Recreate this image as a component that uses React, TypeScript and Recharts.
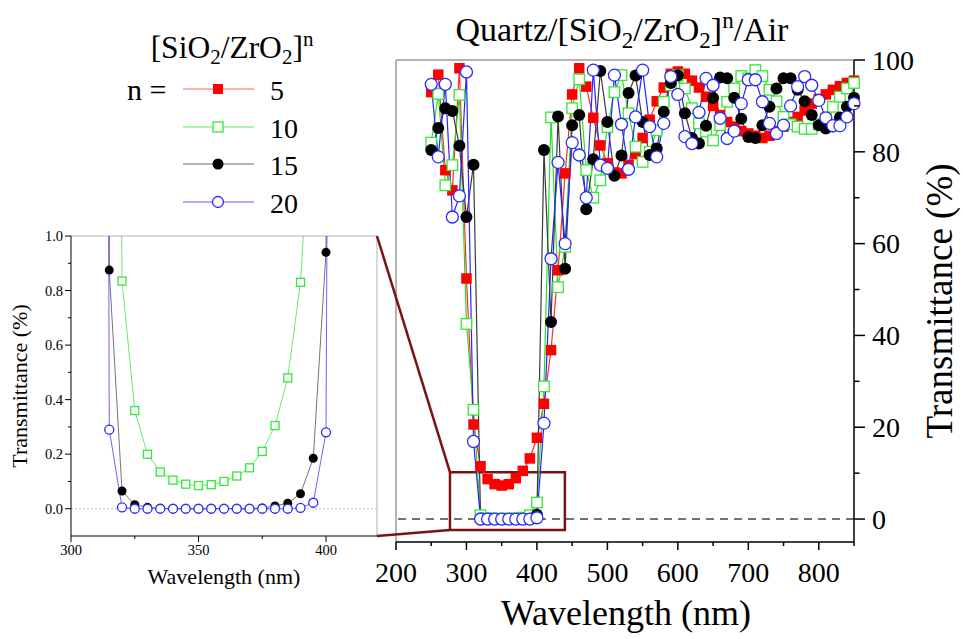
import React from "react"
import { LineChart, Line, XAxis, YAxis, ReferenceLine, ReferenceArea } from "recharts"

const FONT = "'Liberation Serif', Tinos, 'Times New Roman', 'DejaVu Serif', serif"

// main spectrum, every 10 nm
const wavelength = [250, 260, 270, 280, 290, 300, 310, 320, 330, 340, 350, 360, 370, 380, 390, 400, 410, 420, 430, 440, 450, 460, 470, 480, 490, 500, 510, 520, 530, 540, 550, 560, 570, 580, 590, 600, 610, 620, 630, 640, 650, 660, 670, 680, 690, 700, 710, 720, 730, 740, 750, 760, 770, 780, 790, 800, 810, 820, 830, 840, 850]
const t5 = [93, 96.8, 76, 71.6, 98.2, 52.4, 20.6, 11.5, 8.7, 7.6, 7.3, 7.6, 8.9, 10.5, 13.2, 17.7, 25.1, 36.8, 54.2, 75.3, 92.5, 98.2, 94.2, 87.4, 81.4, 77.5, 75.5, 75.3, 77.1, 79.5, 83, 87, 91, 94, 97, 97.5, 97, 95.5, 94, 92, 90, 88, 86.5, 85.5, 84.5, 84, 83.5, 83, 83.5, 84.5, 85.5, 86.5, 87.6, 89, 90.5, 91.5, 92.5, 93.5, 94.3, 95, 95.5]
const t10 = [82, 92.6, 72.7, 77.1, 92.4, 42.5, 23.8, 0.83, 0.2, 0.105, 0.085, 0.1, 0.15, 0.305, 0.83, 3.6, 28.9, 87.5, 50.5, 59.3, 89.5, 95.8, 76, 70, 73.8, 85.4, 93, 96.7, 88.4, 81.1, 77.8, 80, 84.7, 90.9, 94.5, 96.7, 93.8, 89.5, 86.2, 84.4, 82.5, 85.8, 90.9, 93.8, 96.5, 96, 97.8, 96.5, 93.5, 91, 87.6, 86, 85.5, 85, 85, 86, 87.3, 89.8, 92, 93.8, 95]
const t15 = [80.4, 85.2, 89.5, 88.9, 81.3, 65.8, 77.2, 0.07, 0.01, 0, 0, 0, 0, 0.01, 0.06, 0.94, 80.4, 42.9, 87.7, 54.5, 85.8, 88, 67.5, 78.4, 97.6, 86.5, 74.8, 79.2, 92.8, 96.6, 86.5, 79.3, 80.7, 88.7, 95, 96.7, 88.4, 83, 81.8, 85.7, 91.7, 96.2, 96, 91.8, 87.2, 83.2, 83, 85.8, 89.8, 93.8, 96, 96, 93.5, 91, 88, 85.8, 85.1, 85.5, 87.5, 89.8, 91.8]
const t20 = [94.7, 78.9, 94.7, 65.8, 70.4, 97.4, 16.9, 0.005, 0, 0, 0, 0, 0, 0, 0.003, 0.28, 20.9, 56.7, 77.7, 60, 82, 79.3, 70, 97.8, 77.1, 76.4, 96.7, 86, 76.2, 87.6, 97.8, 85.5, 78.9, 86.2, 96.4, 92.5, 83.3, 81.8, 88.6, 96, 94.5, 87.3, 82.9, 84.5, 90.5, 95.7, 95.7, 90.9, 86.2, 84, 85.8, 90, 94.2, 96.4, 94.5, 91.2, 87.4, 85.7, 85.7, 87.6, 90.5]

// inset: stop band, every 5 nm
const insetWavelength = [310, 315, 320, 325, 330, 335, 340, 345, 350, 355, 360, 365, 370, 375, 380, 385, 390, 395, 400, 405]
const inset10 = [23.8, 8, 0.835, 0.36, 0.2, 0.135, 0.105, 0.09, 0.085, 0.088, 0.1, 0.12, 0.15, 0.21, 0.305, 0.48, 0.83, 1.6, 3.6, 15]
const inset15 = [77.2, 0.875, 0.065, 0.015, 0.005, 0.002, 0, 0, 0, 0, 0, 0, 0, 0.003, 0.01, 0.02, 0.055, 0.185, 0.94, 40]
const inset20 = [16.9, 0.29, 0.005, 0, 0, 0, 0, 0, 0, 0, 0, 0, 0, 0, 0, 0, 0.003, 0.022, 0.28, 10]

const mainXTicks = [200, 250, 300, 350, 400, 450, 500, 550, 600, 650, 700, 750, 800, 850]
const mainYTicks = [0, 10, 20, 30, 40, 50, 60, 70, 80, 90, 100]
const insetXTicks = [300, 325, 350, 375, 400]
const insetYTicks = [0, 0.1, 0.2, 0.3, 0.4, 0.5, 0.6, 0.7, 0.8, 0.9, 1]

const SERIES = [
  { key: "n5", label: "5", color: "#ff2a2a", kind: "square", fill: "#ff0000", stroke: "none" },
  { key: "n10", label: "10", color: "#2adf2a", kind: "square", fill: "#ffffff", stroke: "#33e833" },
  { key: "n15", label: "15", color: "#3a3a3a", kind: "circle", fill: "#000000", stroke: "none" },
  { key: "n20", label: "20", color: "#2626ff", kind: "circle", fill: "#ffffff", stroke: "#2a2aff" },
]

const mainData = wavelength.map((wl, i) => ({ wl, n5: t5[i], n10: t10[i], n15: t15[i], n20: t20[i] }))
const insetData = insetWavelength.map((wl, i) => ({ wl, n10: inset10[i], n15: inset15[i], n20: inset20[i] }))

// layout
const MAIN = { left: 300, top: 0, width: 663, height: 639, mLeft: 96, mTop: 60, axisW: 109, axisH: 97 }
const MAIN_X = [200, 850]
const MAIN_Y = [-5, 100]
const INSET = { left: 0, top: 200, width: 385, height: 420, mTop: 36, mRight: 8, axisW: 71, axisH: 84 }
const INSET_X = [300, 420]
const INSET_Y = [-0.1, 1]
const ZOOM_BOX = { x1: 276.6, x2: 439.7, y1: -2.4, y2: 10.2 }
const BOX_COLOR = "#7d1212"

const mainPlot = {
  left: MAIN.left + MAIN.mLeft,
  right: MAIN.left + MAIN.width - MAIN.axisW,
  top: MAIN.top + MAIN.mTop,
  bottom: MAIN.top + MAIN.height - MAIN.axisH,
}
const insetPlot = {
  left: INSET.left + INSET.axisW,
  right: INSET.left + INSET.width - INSET.mRight,
  top: INSET.top + INSET.mTop,
  bottom: INSET.top + INSET.height - INSET.axisH,
}
const mainPx = (v: number) => mainPlot.left + ((v - MAIN_X[0]) / (MAIN_X[1] - MAIN_X[0])) * (mainPlot.right - mainPlot.left)
const mainPy = (v: number) => mainPlot.top + ((MAIN_Y[1] - v) / (MAIN_Y[1] - MAIN_Y[0])) * (mainPlot.bottom - mainPlot.top)

const txt = (size: number) => ({ fontFamily: FONT, fontSize: size })

function Marker({ cx, cy, kind, size, fill, stroke }: any) {
  if (kind === "square") {
    return <rect x={cx - size / 2} y={cy - size / 2} width={size} height={size} fill={fill} stroke={stroke} strokeWidth={1.3} />
  }
  return <circle cx={cx} cy={cy} r={size / 2} fill={fill} stroke={stroke} strokeWidth={1.3} />
}

const dotFor = (s: any, size: number) => (p: any) => {
  if (p.cx == null || p.cy == null || Number.isNaN(p.cy)) return <g key={`d${p.index}`} />
  return <Marker key={`d${p.index}`} cx={p.cx} cy={p.cy} kind={s.kind} size={size} fill={s.fill} stroke={s.stroke} />
}

function MainXTick({ x, y, payload }: any) {
  const major = payload.value % 100 === 0
  return (
    <g>
      <line x1={x} x2={x} y1={y} y2={y + (major ? 8 : 4)} stroke="#000" strokeWidth={1.5} />
      {major && (
        <text x={x} y={y + 40} textAnchor="middle" style={txt(28)} fill="#000">
          {payload.value}
        </text>
      )}
    </g>
  )
}

function MainYTick({ x, y, payload }: any) {
  const major = payload.value % 20 === 0
  return (
    <g>
      <line x1={x} x2={x + (major ? 11 : 5.5)} y1={y} y2={y} stroke="#000" strokeWidth={1.5} />
      {major && (
        <text x={x + 18} y={y} dy="0.35em" style={txt(28)} fill="#000">
          {payload.value}
        </text>
      )}
    </g>
  )
}

function InsetXTick({ x, y, payload }: any) {
  const major = payload.value % 50 === 0
  return (
    <g>
      <line x1={x} x2={x} y1={y} y2={y + (major ? 6 : 3)} stroke="#000" strokeWidth={1} />
      {major && (
        <text x={x} y={y + 19} textAnchor="middle" style={txt(14.5)} fill="#000">
          {payload.value}
        </text>
      )}
    </g>
  )
}

function InsetYTick({ x, y, payload }: any) {
  const major = Math.round(payload.value * 10) % 2 === 0
  return (
    <g>
      <line x1={x} x2={x - (major ? 6 : 3)} y1={y} y2={y} stroke="#000" strokeWidth={1} />
      {major && (
        <text x={x - 8} y={y} dy="0.35em" textAnchor="end" style={txt(14.5)} fill="#000">
          {payload.value.toFixed(1)}
        </text>
      )}
    </g>
  )
}

function MainChart() {
  return (
    <LineChart
      width={MAIN.width}
      height={MAIN.height}
      data={mainData}
      margin={{ top: MAIN.mTop, right: 0, bottom: 0, left: MAIN.mLeft }}
    >
      <XAxis
        type="number"
        dataKey="wl"
        domain={MAIN_X}
        ticks={mainXTicks}
        interval={0}
        height={MAIN.axisH}
        tickSize={0}
        tickMargin={0}
        tickLine={false}
        axisLine={{ stroke: "#000", strokeWidth: 1.5 }}
        tick={<MainXTick />}
      />
      <YAxis
        orientation="right"
        domain={MAIN_Y}
        ticks={mainYTicks}
        interval={0}
        width={MAIN.axisW}
        tickSize={0}
        tickMargin={0}
        tickLine={false}
        axisLine={{ stroke: "#000", strokeWidth: 1.5 }}
        tick={<MainYTick />}
      />
      <ReferenceLine x={MAIN_X[0]} stroke="#b3b3b3" strokeWidth={2} />
      <ReferenceLine y={MAIN_Y[1]} stroke="#b3b3b3" strokeWidth={2} />
      <ReferenceLine y={0} stroke="#444" strokeWidth={1.5} strokeDasharray="8 6" />
      <ReferenceArea
        x1={ZOOM_BOX.x1}
        x2={ZOOM_BOX.x2}
        y1={ZOOM_BOX.y1}
        y2={ZOOM_BOX.y2}
        fill="none"
        fillOpacity={0}
        stroke={BOX_COLOR}
        strokeWidth={2.5}
      />
      {SERIES.map((s) => (
        <Line
          key={s.key}
          type="linear"
          dataKey={s.key}
          stroke={s.color}
          strokeWidth={1.2}
          dot={dotFor(s, s.kind === "square" ? 10.5 : 12)}
          activeDot={false}
          isAnimationActive={false}
        />
      ))}
    </LineChart>
  )
}

function InsetChart() {
  return (
    <LineChart
      width={INSET.width}
      height={INSET.height}
      data={insetData}
      margin={{ top: INSET.mTop, right: INSET.mRight, bottom: 0, left: 0 }}
    >
      <XAxis
        type="number"
        dataKey="wl"
        domain={INSET_X}
        allowDataOverflow
        ticks={insetXTicks}
        interval={0}
        height={INSET.axisH}
        tickSize={0}
        tickMargin={0}
        tickLine={false}
        axisLine={{ stroke: "#000", strokeWidth: 1 }}
        tick={<InsetXTick />}
      />
      <YAxis
        domain={INSET_Y}
        allowDataOverflow
        ticks={insetYTicks}
        interval={0}
        width={INSET.axisW}
        tickSize={0}
        tickMargin={0}
        tickLine={false}
        axisLine={{ stroke: "#000", strokeWidth: 1 }}
        tick={<InsetYTick />}
      />
      <ReferenceLine x={INSET_X[1]} stroke="#b3b3b3" strokeWidth={1} />
      <ReferenceLine y={INSET_Y[1]} stroke="#b3b3b3" strokeWidth={1} />
      <ReferenceLine y={0} stroke="#bbb" strokeWidth={1} strokeDasharray="2 2" />
      {SERIES.filter((s) => s.key !== "n5").map((s) => (
        <Line
          key={s.key}
          type="linear"
          dataKey={s.key}
          stroke={s.color}
          strokeOpacity={0.7}
          strokeWidth={1}
          dot={dotFor(s, s.kind === "square" ? 8 : 9)}
          activeDot={false}
          isAnimationActive={false}
        />
      ))}
    </LineChart>
  )
}

function Overlay() {
  const legendRows = [89, 127, 164, 202]
  return (
    <svg
      width={963}
      height={639}
      style={{ position: "absolute", left: 0, top: 0, pointerEvents: "none", fontFamily: FONT }}
      fill="#000"
    >
      {/* title */}
      <text x={622} y={41} textAnchor="middle" style={txt(34)}>
        Quartz/[SiO<tspan fontSize={23} dy={7}>2</tspan>
        <tspan dy={-7}>/ZrO</tspan>
        <tspan fontSize={23} dy={7}>2</tspan>
        <tspan dy={-7}>]</tspan>
        <tspan fontSize={23} dy={-13}>n</tspan>
        <tspan dy={13}>/Air</tspan>
      </text>

      {/* legend */}
      <text x={232} y={58} textAnchor="middle" style={txt(31.5)}>
        [SiO<tspan fontSize={21} dy={6}>2</tspan>
        <tspan dy={-6}>/ZrO</tspan>
        <tspan fontSize={21} dy={6}>2</tspan>
        <tspan dy={-6}>]</tspan>
        <tspan fontSize={21} dy={-12}>n</tspan>
      </text>
      <text x={127} y={100} style={txt(30)}>n =</text>
      {SERIES.map((s, i) => (
        <g key={s.key}>
          <line x1={183} x2={254} y1={legendRows[i]} y2={legendRows[i]} stroke={s.color} strokeOpacity={0.75} strokeWidth={1.2} />
          <Marker cx={218} cy={legendRows[i]} kind={s.kind} size={s.kind === "square" ? 10 : 11} fill={s.fill} stroke={s.stroke} />
          <text x={270} y={legendRows[i] + 11} style={txt(28)}>{s.label}</text>
        </g>
      ))}

      {/* axis titles */}
      <text x={626} y={625} textAnchor="middle" style={txt(36)}>Wavelength (nm)</text>
      <text transform="translate(952, 301) rotate(-90)" textAnchor="middle" style={txt(37)}>Transmittance (%)</text>
      <text x={224} y={584} textAnchor="middle" style={txt(22)}>Wavelength (nm)</text>
      <text transform="translate(27, 386) rotate(-90)" textAnchor="middle" style={txt(22)}>Transmittance (%)</text>

      {/* zoom connectors */}
      <line x1={insetPlot.right} y1={insetPlot.top} x2={mainPx(ZOOM_BOX.x1)} y2={mainPy(ZOOM_BOX.y2)} stroke={BOX_COLOR} strokeWidth={2.5} />
      <line x1={insetPlot.right} y1={insetPlot.bottom} x2={mainPx(ZOOM_BOX.x1)} y2={mainPy(ZOOM_BOX.y1)} stroke={BOX_COLOR} strokeWidth={2.5} />
    </svg>
  )
}

export default function App() {
  return (
    <div style={{ position: "absolute", left: 0, top: 0, width: 963, height: 639, background: "#fff", fontFamily: FONT }}>
      <div style={{ position: "absolute", left: INSET.left, top: INSET.top }}>
        <InsetChart />
      </div>
      <div style={{ position: "absolute", left: MAIN.left, top: MAIN.top }}>
        <MainChart />
      </div>
      <Overlay />
    </div>
  )
}
